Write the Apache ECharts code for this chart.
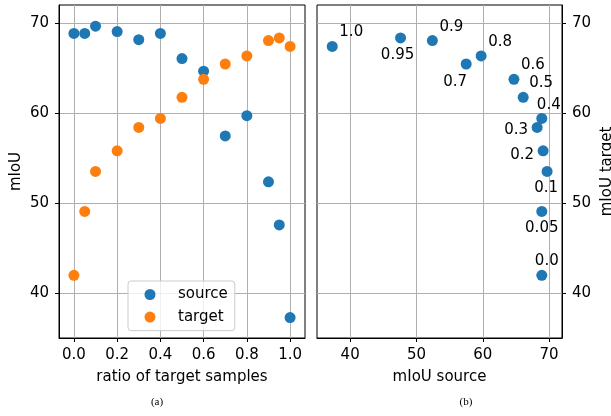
<!DOCTYPE html>
<html>
<head>
<meta charset="utf-8">
<script src="https://cdn.jsdelivr.net/npm/echarts@6/dist/echarts.min.js"></script>
<style>html,body{margin:0;padding:0;background:#fff;}#c{width:611px;height:416px;}</style>
</head>
<body>
<div id="c"></div>
<script>
const ratios = [0, 0.05, 0.1, 0.2, 0.3, 0.4, 0.5, 0.6, 0.7, 0.8, 0.9, 0.95, 1.0];
const ratioLabels = ['0.0', '0.05', '0.1', '0.2', '0.3', '0.4', '0.5', '0.6', '0.7', '0.8', '0.9', '0.95', '1.0'];
const source = [68.9, 68.9, 69.7, 69.1, 68.2, 68.9, 66.1, 64.7, 57.5, 59.75, 52.4, 47.6, 37.3];
const target = [42.0, 49.1, 53.55, 55.85, 58.45, 59.45, 61.8, 63.8, 65.5, 66.4, 68.1, 68.4, 67.45];
const xTicksA = [0, 0.2, 0.4, 0.6, 0.8, 1.0];
const xTicksB = [40, 50, 60, 70];
const yTicks = [40, 50, 60, 70];

// annotation offsets (label styling for panel b)
const labelOffsets = [[5,-14],[0,17],[-1,17],[-21,4],[-21,3],[7,-13],[18,-14],[19,-14],[-11,18],[19,-14],[19,-14],[-3,17],[19,-14]];

const FONT = 'DejaVu Sans';
const FS = 15;
const BLUE = '#1f77b4', ORANGE = '#ff7f0e';
const chart = echarts.init(document.getElementById('c'), null, {renderer: 'canvas'});

function axisCommon(ticks, margin) {
  return {
    axisLine: {show: true, onZero: false, lineStyle: {color: '#000', width: 1}},
    axisTick: {show: true, length: 4, inside: false, customValues: ticks, lineStyle: {color: '#000', width: 1}},
    axisLabel: {customValues: ticks, color: '#000', fontFamily: FONT, fontSize: FS, margin: margin,
      formatter: v => (Math.abs(v) < 5 ? v.toFixed(1) : String(v))},
    splitLine: {show: true, lineStyle: {color: '#b0b0b0', width: 1}},
    nameTextStyle: {color: '#000', fontFamily: FONT, fontSize: FS},
    nameLocation: 'middle'
  };
}

chart.setOption({
  animation: false,
  backgroundColor: '#fff',
  grid: [
    {left: 59, right: 306, top: 5, bottom: 78, show: true, borderColor: '#000', borderWidth: 1,
      containLabel: false, outerBoundsMode: 'none'},
    {left: 317, right: 49, top: 5, bottom: 78, show: true, borderColor: '#000', borderWidth: 1,
      containLabel: false, outerBoundsMode: 'none'}
  ],
  xAxis: [
    Object.assign(axisCommon(xTicksA, 10), {type: 'value', gridIndex: 0, min: -0.069, max: 1.069,
      name: 'ratio of target samples', nameGap: 32}),
    Object.assign(axisCommon(xTicksB, 10), {type: 'value', gridIndex: 1, min: 35, max: 71.95,
      name: 'mIoU source', nameGap: 32})
  ],
  yAxis: [
    Object.assign(axisCommon(yTicks, 10), {type: 'value', gridIndex: 0, min: 35.03, max: 72.06,
      name: 'mIoU', nameGap: 35}),
    Object.assign(axisCommon(yTicks, 10), {type: 'value', gridIndex: 1, min: 35.03, max: 72.06, position: 'right',
      name: 'mIoU target', nameGap: 38})
  ],
  legend: {
    data: ['source', 'target'],
    left: 128, top: 281,
    orient: 'vertical',
    icon: 'circle',
    itemWidth: 11, itemHeight: 11, itemGap: 7.6,
    padding: [6, 7, 6, 16.5],
    backgroundColor: 'rgba(255,255,255,0.8)',
    borderColor: '#cccccc', borderWidth: 1, borderRadius: 3,
    formatter: name => '{p|}{t|' + name + '}',
    textStyle: {color: '#000', fontFamily: FONT, fontSize: FS,
      rich: {p: {width: 17.5}, t: {color: '#000', fontFamily: FONT, fontSize: FS}}}
  },
  series: [
    {name: 'source', type: 'scatter', xAxisIndex: 0, yAxisIndex: 0, symbolSize: 11,
      itemStyle: {color: BLUE, opacity: 1}, data: ratios.map((r, i) => [r, source[i]])},
    {name: 'target', type: 'scatter', xAxisIndex: 0, yAxisIndex: 0, symbolSize: 11,
      itemStyle: {color: ORANGE, opacity: 1}, data: ratios.map((r, i) => [r, target[i]])},
    {name: 'pairs', type: 'scatter', xAxisIndex: 1, yAxisIndex: 1, symbolSize: 11,
      itemStyle: {color: BLUE, opacity: 1},
      data: source.map((s, i) => ({
        value: [s, target[i]], name: ratioLabels[i],
        label: {show: true, position: 'inside', offset: labelOffsets[i], formatter: ratioLabels[i],
          color: '#000', fontFamily: FONT, fontSize: FS, align: 'center', verticalAlign: 'middle'}
      }))}
  ],
  graphic: [
    {type: 'text', x: 157, y: 402, style: {text: '(a)', textAlign: 'center', textVerticalAlign: 'middle', font: '11px "Liberation Serif"', fill: '#000'}},
    {type: 'text', x: 466, y: 402, style: {text: '(b)', textAlign: 'center', textVerticalAlign: 'middle', font: '11px "Liberation Serif"', fill: '#000'}}
  ]
});
</script>
</body>
</html>
